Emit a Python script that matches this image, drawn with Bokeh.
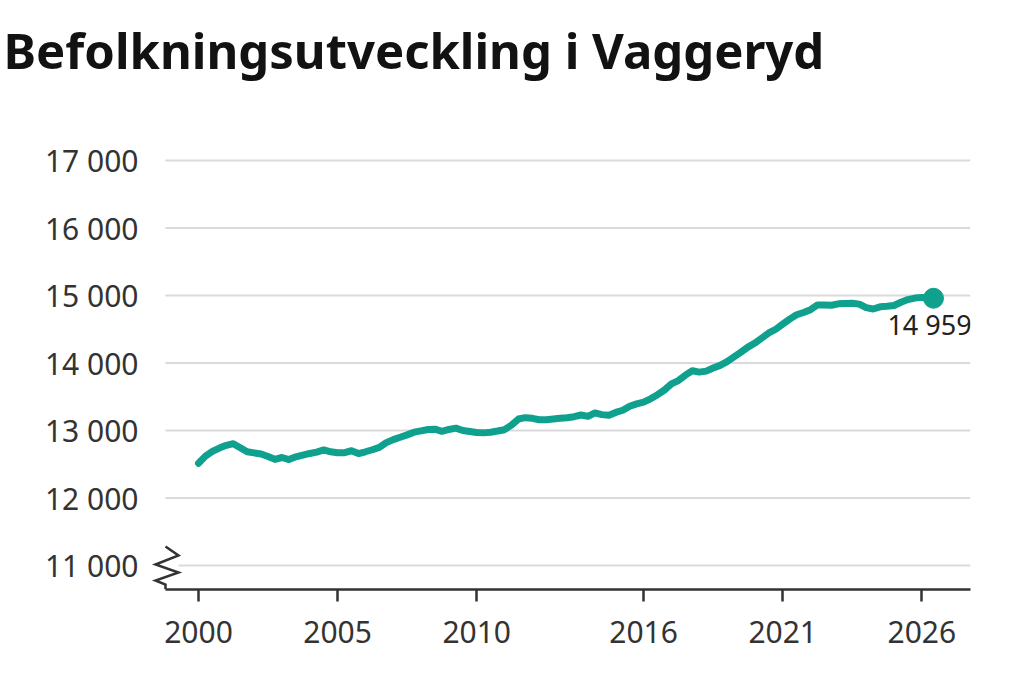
from bokeh.plotting import figure
from bokeh.models import Range1d, FixedTicker, PolyAnnotation, Label, Title
from bokeh.embed import file_html
from bokeh.resources import INLINE

# ---------------- data ----------------
title_text = "Befolkningsutveckling i Vaggeryd"
year_ticks = [2000, 2005, 2010, 2016, 2021, 2026]
pop_ticks = [11000, 12000, 13000, 14000, 15000, 16000, 17000]
pop_tick_labels = ["11 000", "12 000", "13 000", "14 000", "15 000", "16 000", "17 000"]

# quarterly time stamps 2000.0 ... 2026.0, plus the latest observation
quarter_years = [2000 + i / 4 for i in range(105)] + [2026.42]
population = [
    12516, 12620, 12690, 12740,   # 2000
    12780, 12805, 12745, 12685,   # 2001
    12668, 12652, 12615, 12572,   # 2002
    12600, 12570, 12610, 12635,   # 2003
    12660, 12680, 12712, 12684,   # 2004
    12670, 12672, 12700, 12658,   # 2005
    12685, 12715, 12750, 12820,   # 2006
    12865, 12900, 12935, 12975,   # 2007
    12995, 13015, 13020, 12988,   # 2008
    13015, 13035, 13000, 12985,   # 2009
    12970, 12965, 12975, 12992,   # 2010
    13012, 13080, 13170, 13190,   # 2011
    13180, 13160, 13160, 13170,   # 2012
    13180, 13190, 13205, 13230,   # 2013
    13210, 13260, 13235, 13225,   # 2014
    13268, 13300, 13360, 13395,   # 2015
    13420, 13470, 13530, 13600,   # 2016
    13690, 13740, 13820, 13885,   # 2017
    13865, 13880, 13925, 13965,   # 2018
    14020, 14090, 14160, 14235,   # 2019
    14295, 14370, 14445, 14500,   # 2020
    14575, 14650, 14715, 14748,   # 2021
    14790, 14860, 14860, 14855,   # 2022
    14877, 14882, 14886, 14872,   # 2023
    14820, 14800, 14832, 14840,   # 2024
    14852, 14900, 14940, 14962,   # 2025
    14972,                        # 2026 Q1
    14959,                        # latest
]

# ---------------- layout ----------------
TEAL = "#0fa08e"
TEXT = "#333333"
FONT = "Noto Sans"

W, H = 1008, 660
FRAME_L, FRAME_R, FRAME_T, FRAME_B = 150, 970, 140, 589
PX_PER_YEAR = 27.82          # horizontal scale
X0_PX = 198                  # pixel position of year_ticks[0]
PX_PER_1000 = 67.5           # vertical scale
Y17_PX = 160                 # pixel position of pop_ticks[-1]


def year_at(px):
    return year_ticks[0] + (px - X0_PX) / PX_PER_YEAR


def pop_at(py):
    return pop_ticks[-1] + (Y17_PX - py) / PX_PER_1000 * 1000


x_start, x_end = year_at(FRAME_L), year_at(FRAME_R)
y_start, y_end = pop_at(FRAME_B), pop_at(FRAME_T)

p = figure(
    width=W, height=H,
    output_backend="svg", toolbar_location=None,
    x_range=Range1d(x_start, x_end),
    y_range=Range1d(y_start, y_end),
    min_border_left=FRAME_L, min_border_right=W - FRAME_R,
    min_border_top=FRAME_T, min_border_bottom=H - FRAME_B,
)
p.outline_line_color = None
p.background_fill_color = "white"
p.border_fill_color = "white"

# spacer panel between the title and the plot area
p.add_layout(Title(text=" ", text_font_size="10px", standoff=31), "above")

p.title.text = title_text
p.title.text_font = FONT
p.title.text_font_size = "49px"
p.title.text_font_style = "bold"
p.title.text_color = "#121212"
p.title.align = "left"
p.title.offset = -FRAME_L + 3
p.title.standoff = 28

# horizontal gridlines (the lowest one starts after the axis-break marker)
p.xgrid.visible = False
p.ygrid.visible = False
grid_x0 = [year_at(178) if t == pop_ticks[0] else year_at(165) for t in pop_ticks]
p.segment(x0=grid_x0, y0=pop_ticks, x1=[x_end] * len(pop_ticks), y1=pop_ticks,
          line_color="#dadada", line_width=2)

xa = p.xaxis[0]
xa.ticker = FixedTicker(ticks=year_ticks)
xa.bounds = (year_at(165), x_end)
xa.axis_line_color = "#333333"
xa.axis_line_width = 2.5
xa.major_tick_line_color = "#333333"
xa.major_tick_line_width = 2.5
xa.major_tick_out = 12
xa.major_tick_in = 0
xa.minor_tick_line_color = None
xa.major_label_text_font = FONT
xa.major_label_text_font_size = "30px"
xa.major_label_text_color = TEXT
xa.major_label_standoff = 19

ya = p.yaxis[0]
ya.ticker = FixedTicker(ticks=pop_ticks)
ya.major_label_overrides = dict(zip(pop_ticks, pop_tick_labels))
ya.axis_line_color = None
ya.major_tick_line_color = None
ya.minor_tick_line_color = None
ya.major_label_text_font = FONT
ya.major_label_text_font_size = "30px"
ya.major_label_text_color = TEXT
ya.major_label_standoff = 6

# axis-break zigzag (frame-relative screen pixels)
zz_x = [15, 28, 5, 28, 5, 15, 15]
zz_y = [43, 34, 25, 17, 9, 5, 0]
zigzag = PolyAnnotation(xs=zz_x + zz_x[::-1], ys=zz_y + zz_y[::-1],
                        xs_units="screen", ys_units="screen",
                        fill_alpha=0, line_color="#333333", line_alpha=1.0,
                        line_width=2.5, line_join="miter")
p.add_layout(zigzag)

# data line and latest value
p.line(quarter_years, population, line_width=7, line_color=TEAL,
       line_join="round", line_cap="round")
p.scatter([quarter_years[-1]], [population[-1]], size=20, color=TEAL)
last_label = f"{population[-1]:,}".replace(",", " ")
p.add_layout(Label(x=quarter_years[-1], y=population[-1], text=last_label,
                   text_font=FONT, text_font_size="27px", text_color="#222222",
                   text_align="center", text_baseline="alphabetic",
                   x_offset=-4, y_offset=-26))

open("out.html", "w").write(file_html(p, INLINE))
